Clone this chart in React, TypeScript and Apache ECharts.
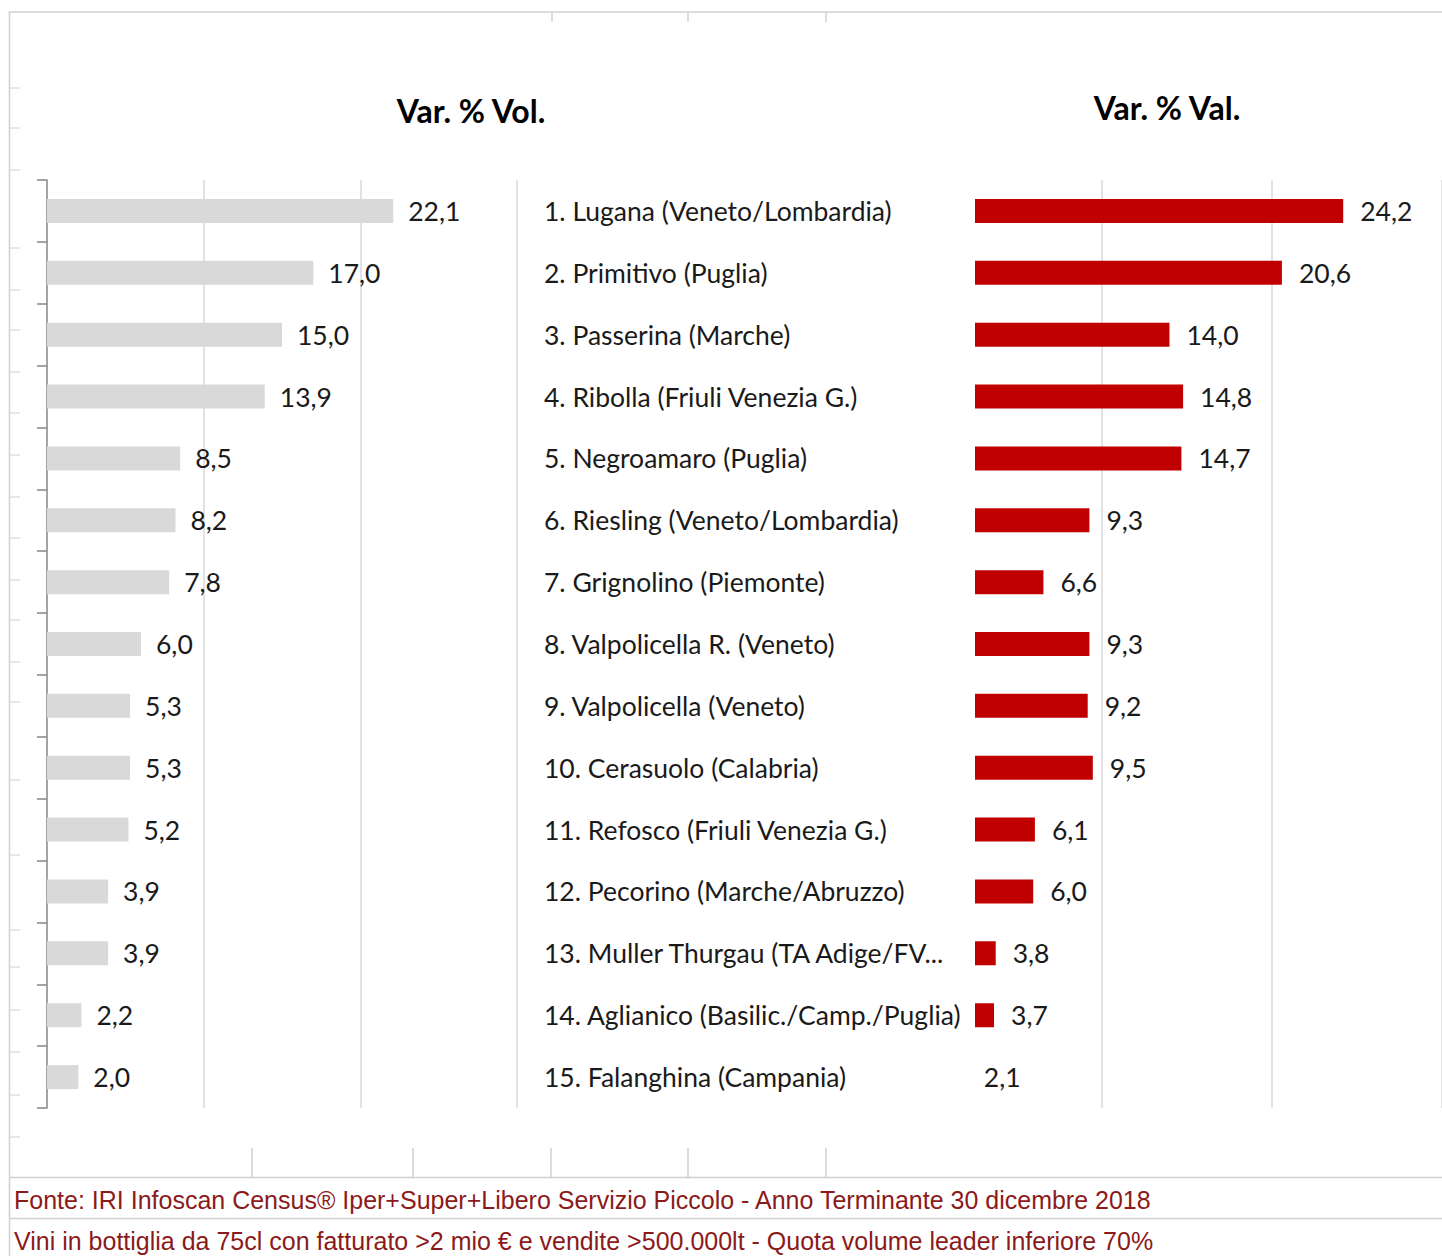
import React, { useEffect, useRef } from "react";
import * as echarts from "echarts";

const categories = [
  "1. Lugana (Veneto/Lombardia)",
  "2. Primitivo (Puglia)",
  "3. Passerina (Marche)",
  "4. Ribolla (Friuli Venezia G.)",
  "5. Negroamaro (Puglia)",
  "6. Riesling (Veneto/Lombardia)",
  "7. Grignolino (Piemonte)",
  "8. Valpolicella R. (Veneto)",
  "9. Valpolicella (Veneto)",
  "10. Cerasuolo (Calabria)",
  "11. Refosco (Friuli Venezia G.)",
  "12. Pecorino (Marche/Abruzzo)",
  "13. Muller Thurgau (TA Adige/FV...",
  "14. Aglianico (Basilic./Camp./Puglia)",
  "15. Falanghina (Campania)",
];
const volValues = [22.1, 17.0, 15.0, 13.9, 8.5, 8.2, 7.8, 6.0, 5.3, 5.3, 5.2, 3.9, 3.9, 2.2, 2.0];
const valValues = [24.2, 20.6, 14.0, 14.8, 14.7, 9.3, 6.6, 9.3, 9.2, 9.5, 6.1, 6.0, 3.8, 3.7, 2.1];
const titles = ["Var. % Vol.", "Var. % Val."];
const footers = [
  "Fonte: IRI Infoscan Census® Iper+Super+Libero Servizio Piccolo - Anno Terminante 30 dicembre 2018",
  "Vini in bottiglia da 75cl con fatturato >2 mio € e vendite >500.000lt - Quota volume leader inferiore 70%",
];
const axisMax = 30;
const axisStep = 10;

const FONT = "Lato, 'Open Sans', sans-serif";
const fmt = (p: any) => Number(p.value).toFixed(1).replace(".", ",");

const sheetRowTicks = [88, 128, 170, 248, 290, 330, 372, 413, 455, 497, 538, 580, 620, 662, 702, 780, 855, 930, 967, 1010, 1052, 1095, 1137];
const sheetTopCols = [552, 688, 826];
const sheetBottomCols = [252, 413, 551, 688, 826];

export default function App() {
  const ref = useRef<HTMLDivElement>(null);
  useEffect(() => {
    if (!ref.current) return;
    const chart = echarts.init(ref.current, null, { renderer: "svg" });
    const grey = "#d0d0d0";
    const graphics: any[] = [];
    graphics.push({ type: "line", shape: { x1: 9, y1: 12, x2: 1442, y2: 12 }, style: { stroke: grey, lineWidth: 1.5 }, z: 0 });
    graphics.push({ type: "line", shape: { x1: 9.5, y1: 12, x2: 9.5, y2: 1256 }, style: { stroke: grey, lineWidth: 1.5 }, z: 0 });
    sheetRowTicks.forEach((y) =>
      graphics.push({ type: "line", shape: { x1: 9, y1: y, x2: 20, y2: y }, style: { stroke: grey, lineWidth: 1 }, z: 0 })
    );
    sheetTopCols.forEach((x) =>
      graphics.push({ type: "line", shape: { x1: x, y1: 12, x2: x, y2: 22 }, style: { stroke: grey, lineWidth: 1.5 }, z: 0 })
    );
    sheetBottomCols.forEach((x) =>
      graphics.push({ type: "line", shape: { x1: x, y1: 1148, x2: x, y2: 1177 }, style: { stroke: grey, lineWidth: 1.5 }, z: 0 })
    );
    graphics.push({ type: "line", shape: { x1: 9, y1: 1177.5, x2: 1442, y2: 1177.5 }, style: { stroke: grey, lineWidth: 1.5 }, z: 0 });
    graphics.push({ type: "line", shape: { x1: 9, y1: 1218.5, x2: 1442, y2: 1218.5 }, style: { stroke: grey, lineWidth: 1.5 }, z: 0 });
    // cover of the value axis zone left of the red bars
    graphics.push({ type: "rect", shape: { x: 929, y: 178, width: 46, height: 932 }, style: { fill: "#ffffff" }, z: 5 });
    graphics.push({
      type: "text", x: 471, y: 110, z: 6,
      style: { text: titles[0], font: `bold 32px ${FONT}`, fill: "#000", align: "center", verticalAlign: "middle" },
    });
    graphics.push({
      type: "text", x: 1167, y: 107, z: 6,
      style: { text: titles[1], font: `bold 32px ${FONT}`, fill: "#000", align: "center", verticalAlign: "middle" },
    });
    graphics.push({
      type: "text", x: 14, y: 1200, z: 6,
      style: { text: footers[0], font: `25px 'Liberation Sans', Arial, sans-serif`, fill: "#8b1a1a", align: "left", verticalAlign: "middle" },
    });
    graphics.push({
      type: "text", x: 14, y: 1241, z: 6,
      style: { text: footers[1], font: `25px 'Liberation Sans', Arial, sans-serif`, fill: "#8b1a1a", align: "left", verticalAlign: "middle" },
    });

    const valueAxis = (gridIndex: number) => ({
      type: "value",
      gridIndex,
      min: 0,
      max: axisMax,
      interval: axisStep,
      axisLabel: { show: false },
      axisLine: { show: false },
      axisTick: { show: false },
      splitLine: { show: true, showMinLine: false, lineStyle: { color: "#d9d9d9", width: 1.5 } },
    });

    chart.setOption({
      animation: false,
      backgroundColor: "#ffffff",
      grid: [
        { left: 47, top: 180, width: 470, height: 928 },
        { left: 931, top: 180, width: 513, height: 928 },
      ],
      xAxis: [valueAxis(0), valueAxis(1)],
      yAxis: [
        {
          type: "category",
          gridIndex: 0,
          data: categories,
          inverse: true,
          axisLine: { show: true, lineStyle: { color: "#868686", width: 1.5 } },
          axisTick: { show: true, length: 10, lineStyle: { color: "#868686", width: 1.5 } },
          axisLabel: { show: false },
        },
        {
          type: "category",
          gridIndex: 1,
          data: categories,
          inverse: true,
          z: 10,
          axisLine: { show: false },
          axisTick: { show: false },
          axisLabel: { show: true, align: "left", margin: 387, fontFamily: FONT, fontSize: 26.5, color: "#1a1a1a" },
        },
      ],
      series: [
        {
          type: "bar",
          xAxisIndex: 0,
          yAxisIndex: 0,
          data: volValues,
          barWidth: 24,
          itemStyle: { color: "#d9d9d9" },
          label: { show: true, position: "right", distance: 15, formatter: fmt, fontFamily: FONT, fontSize: 26.5, color: "#1a1a1a" },
        },
        {
          type: "bar",
          xAxisIndex: 1,
          yAxisIndex: 1,
          data: valValues,
          barWidth: 24,
          itemStyle: { color: "#c00000" },
          label: { show: true, position: "right", distance: 17, formatter: fmt, fontFamily: FONT, fontSize: 26.5, color: "#1a1a1a" },
        },
      ],
      graphic: graphics,
    });
    return () => chart.dispose();
  }, []);
  return <div ref={ref} style={{ position: "absolute", left: 0, top: 0, width: 1442, height: 1256 }} />;
}
